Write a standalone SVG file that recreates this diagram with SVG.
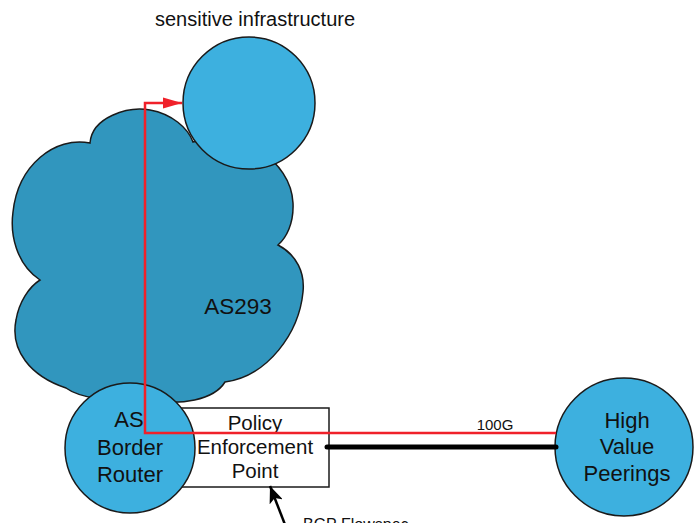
<svg xmlns="http://www.w3.org/2000/svg" width="694" height="523" viewBox="0 0 694 523">
  <defs>
    <style>
      .lbl { font-family: "Liberation Sans", Arial, sans-serif; fill: #111; }
      .node { stroke: #1a1a1a; stroke-width: 1.5; }
      .circ { fill: #3db0df; }
    </style>
    <marker id="redHead" markerWidth="20" markerHeight="12" refX="19" refY="6" orient="auto" markerUnits="userSpaceOnUse">
      <path d="M0,0.5 L19,6 L0,11.5 Z" fill="#f0212a"/>
    </marker>
    <marker id="blackHead" markerWidth="18" markerHeight="14" refX="17" refY="7" orient="auto" markerUnits="userSpaceOnUse">
      <path d="M0,0 L17,7 L0,14 L4,7 Z" fill="#000"/>
    </marker>
  </defs>
  <rect width="694" height="523" fill="#fff"/>

  <g id="as293">
    <path class="node" fill="#3196be" d="M90,143 C92,117 128,106 150,110 C172,114 188,128 193,142 C240,128 291,160 293,203 C294,224 286,238 278,245 C297,255 305,273 303,292 C299,333 268,376 225,382 C214,400 180,406 150,400 C112,404 78,397 66,388 C30,376 10,350 16,320 C19,302 29,287 40,280 C16,264 10,234 13,212 C18,165 55,136 90,143 Z"/>
    <text class="lbl" x="238" y="314" font-size="22.5" text-anchor="middle">AS293</text>
  </g>

  <g id="policy">
    <rect class="node" x="180" y="408" width="149" height="79" fill="#fff" stroke-width="1.3"/>
    <text class="lbl" x="255" y="430" font-size="20.5" text-anchor="middle">Policy</text>
    <text class="lbl" x="255" y="454" font-size="20.5" text-anchor="middle">Enforcement</text>
    <text class="lbl" x="255" y="478" font-size="20.5" text-anchor="middle">Point</text>
  </g>

  <g id="router">
    <circle class="node circ" cx="130" cy="448" r="65"/>
    <text class="lbl" x="129" y="427" font-size="22" text-anchor="middle">AS</text>
    <text class="lbl" x="130" y="455" font-size="22" text-anchor="middle">Border</text>
    <text class="lbl" x="130" y="482" font-size="22" text-anchor="middle">Router</text>
  </g>

  <g id="sensitive">
    <circle class="node circ" cx="249" cy="103" r="66"/>
    <text class="lbl" x="255" y="26" font-size="20" text-anchor="middle">sensitive infrastructure</text>
  </g>

  <g id="peerings">
    <circle class="node circ" cx="624" cy="447" r="69"/>
    <text class="lbl" x="627" y="428" font-size="22" text-anchor="middle">High</text>
    <text class="lbl" x="627" y="454" font-size="22" text-anchor="middle">Value</text>
    <text class="lbl" x="627" y="481" font-size="22" text-anchor="middle">Peerings</text>
  </g>

  <g id="connectors">
    <line x1="327" y1="447" x2="556" y2="447" stroke="#000" stroke-width="5" stroke-linecap="round"/>
    <polyline points="556,433 145,433 145,103 182,103" fill="none" stroke="#f0212a" stroke-width="2.5" marker-end="url(#redHead)"/>
    <text class="lbl" x="495" y="430" font-size="15" text-anchor="middle">100G</text>
    <line x1="291" y1="540" x2="270" y2="486" stroke="#000" stroke-width="2.5" marker-end="url(#blackHead)"/>
    <text class="lbl" x="303" y="530" font-size="16">BGP Flowspec</text>
  </g>
</svg>
